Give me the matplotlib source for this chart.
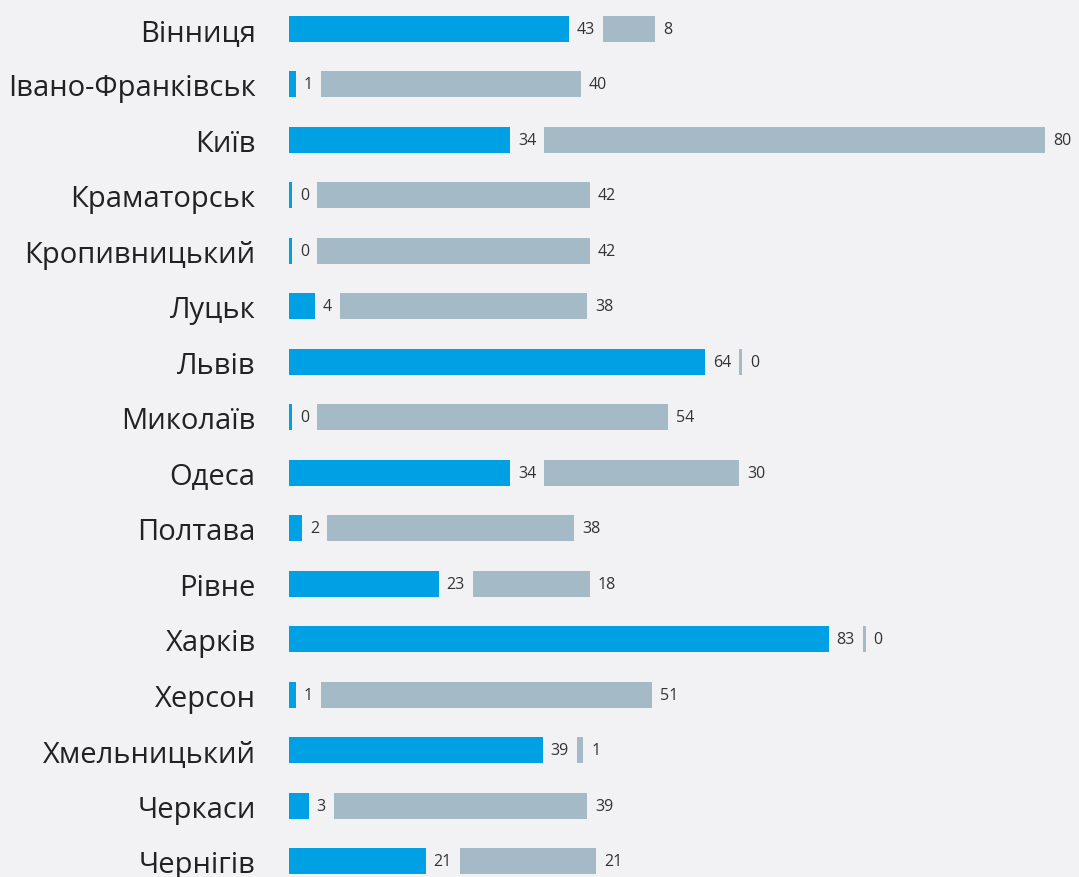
import matplotlib.pyplot as plt

cities = ["Вінниця", "Івано-Франківськ", "Київ", "Краматорськ", "Кропивницький",
          "Луцьк", "Львів", "Миколаїв", "Одеса", "Полтава", "Рівне", "Харків",
          "Херсон", "Хмельницький", "Черкаси", "Чернігів"]
blue_vals = [43, 1, 34, 0, 0, 4, 64, 0, 34, 2, 23, 83, 1, 39, 3, 21]
gray_vals = [8, 40, 80, 42, 42, 38, 0, 54, 30, 38, 18, 0, 51, 1, 39, 21]

BLUE = "#00a1e4"
GRAY = "#a4bac6"
BG = "#f2f2f4"
TXT = "#333333"

plt.rcParams["font.family"] = ["Open Sans", "DejaVu Sans"]

W, H = 1079, 878
fig = plt.figure(figsize=(W / 100, H / 100), dpi=100, facecolor=BG)
px_per_unit = 6.5
left_px, right_px = 289, 1045
ax = fig.add_axes([left_px / W, 0, (right_px - left_px) / W, 1])
ax.set_facecolor(BG)
ax.set_xlim(0, (right_px - left_px) / px_per_unit)
row0, step = 30, 55.47
ax.set_ylim((H - row0) / step, -row0 / step)
for s in ax.spines.values():
    s.set_visible(False)
ax.set_xticks([])
ax.set_yticks(range(len(cities)))
ax.set_yticklabels(cities, fontsize=21, color="#222222")
ax.tick_params(axis="y", length=0, pad=24)

renderer = fig.canvas.get_renderer()
bar_h = 26 / step
min_w = 3 / px_per_unit
pad = 8 / px_per_unit

for i, (b, g) in enumerate(zip(blue_vals, gray_vals)):
    bw = max(b, min_w)
    ax.barh(i, bw, height=bar_h, color=BLUE, left=0)
    t = ax.text(bw + pad, i, str(b), fontsize=11.5, color=TXT, va="center", ha="left",
                clip_on=False)
    tw = t.get_window_extent(renderer).width / px_per_unit
    gl = bw + pad + tw + pad
    gw = max(g, min_w)
    ax.barh(i, gw, height=bar_h, color=GRAY, left=gl)
    gend = min(gl + gw, ax.get_xlim()[1])
    ax.text(gend + pad, i, str(g), fontsize=11.5, color=TXT, va="center", ha="left",
            clip_on=False)

fig.savefig("out.png", dpi=100, facecolor=BG)
